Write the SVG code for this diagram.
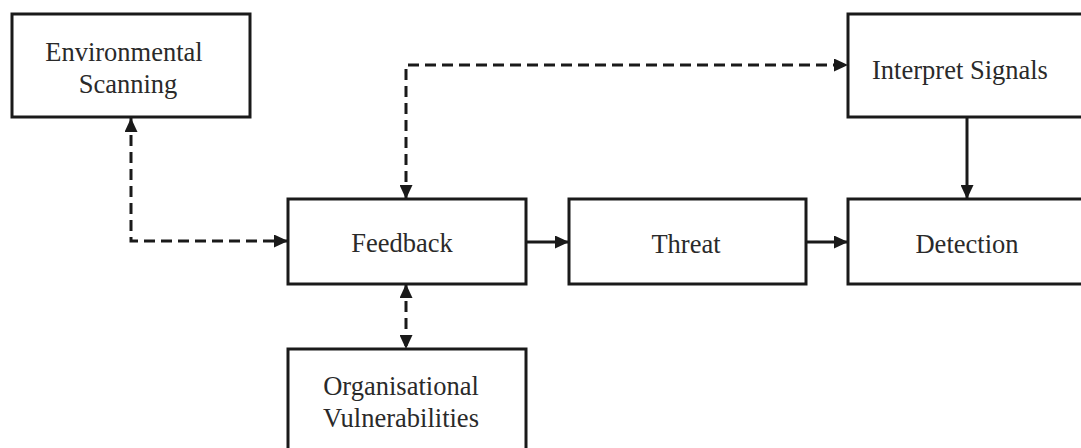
<svg xmlns="http://www.w3.org/2000/svg" width="1081" height="448" viewBox="0 0 1081 448">
  <defs>
    <marker id="arrow" viewBox="0 0 14 13" refX="14" refY="6.5" markerWidth="14" markerHeight="13" markerUnits="userSpaceOnUse" orient="auto-start-reverse">
      <path d="M0,0 L14,6.5 L0,13 z" fill="#1a1a1a" stroke="none"/>
    </marker>
  </defs>
  <style>
    .box { fill: #ffffff; stroke: #1a1a1a; stroke-width: 3; }
    .label { font-family: "Liberation Serif", "Times New Roman", serif; font-size: 26.5px; fill: #2a2a2a; text-anchor: middle; }
    .link { fill: none; stroke: #1a1a1a; stroke-width: 3; }
    .dashed { stroke-dasharray: 11 6; }
  </style>
  <rect width="1081" height="448" fill="#ffffff"/>

  <g id="environmental-scanning">
    <rect class="box" x="12" y="14" width="238" height="103"/>
    <text class="label" x="124" y="61">Environmental</text>
    <text class="label" x="128" y="93">Scanning</text>
  </g>

  <g id="interpret-signals">
    <rect class="box" x="848" y="14" width="245" height="103"/>
    <text class="label" x="960" y="79">Interpret Signals</text>
  </g>

  <g id="feedback">
    <rect class="box" x="288" y="199" width="238" height="85"/>
    <text class="label" x="402" y="252">Feedback</text>
  </g>

  <g id="threat">
    <rect class="box" x="569" y="199" width="237" height="85"/>
    <text class="label" x="686" y="253">Threat</text>
  </g>

  <g id="detection">
    <rect class="box" x="848" y="199" width="245" height="85"/>
    <text class="label" x="967" y="253">Detection</text>
  </g>

  <g id="organisational-vulnerabilities">
    <rect class="box" x="288" y="349" width="238" height="110"/>
    <text class="label" x="401" y="395">Organisational</text>
    <text class="label" x="401" y="427">Vulnerabilities</text>
  </g>

  <g id="connectors">
    <!-- Environmental Scanning <-> Feedback -->
    <path class="link dashed" d="M131,118 L131,241 L288,241" marker-start="url(#arrow)" marker-end="url(#arrow)"/>
    <!-- Feedback <-> Interpret Signals -->
    <path class="link dashed" d="M406,199 L406,65 L848,65" marker-start="url(#arrow)" marker-end="url(#arrow)"/>
    <!-- Feedback <-> Organisational Vulnerabilities -->
    <path class="link dashed" d="M406,284 L406,349" marker-start="url(#arrow)" marker-end="url(#arrow)"/>
    <!-- Feedback -> Threat -->
    <path class="link" d="M526,242 L569,242" marker-end="url(#arrow)"/>
    <!-- Threat -> Detection -->
    <path class="link" d="M806,242 L848,242" marker-end="url(#arrow)"/>
    <!-- Interpret Signals -> Detection -->
    <path class="link" d="M967,117 L967,199" marker-end="url(#arrow)"/>
  </g>
</svg>
